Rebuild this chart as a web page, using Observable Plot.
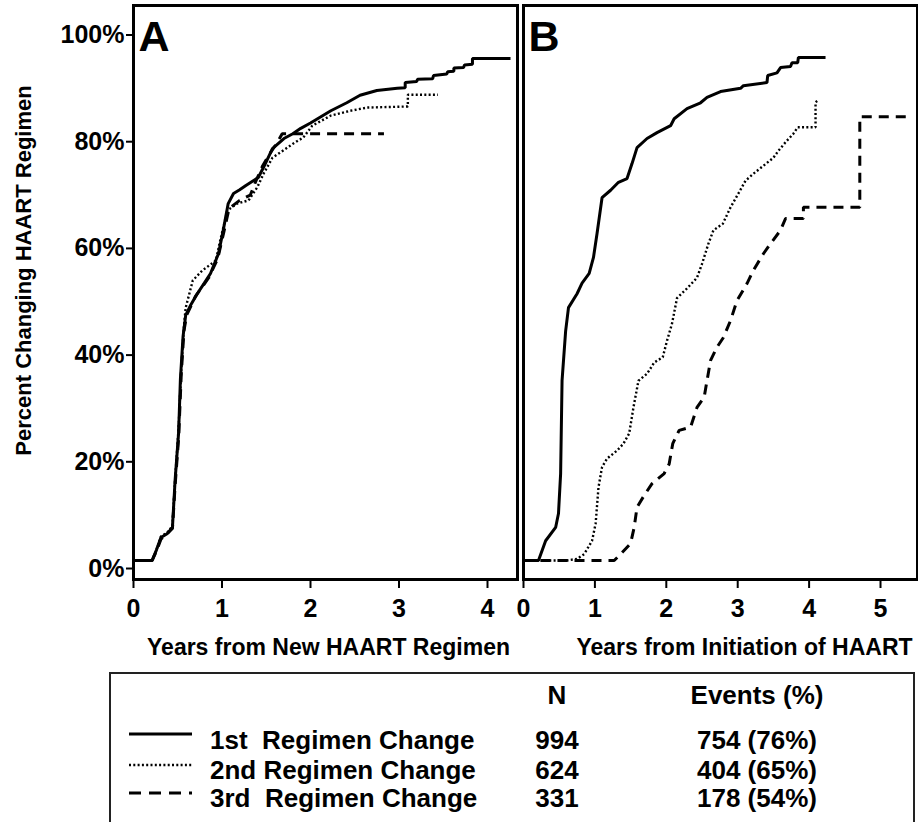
<!DOCTYPE html>
<html><head><meta charset="utf-8">
<script src="https://cdn.jsdelivr.net/npm/d3@7"></script>
<script src="https://cdn.jsdelivr.net/npm/@observablehq/plot@0.6"></script>
<style>
html,body{margin:0;padding:0;background:#fff;}
#page{position:relative;width:918px;height:822px;overflow:hidden;background:#fff;font-family:"Liberation Sans",Arial,Helvetica,sans-serif;font-weight:bold;color:#000;}
.lg{position:absolute;font-size:26px;line-height:26px;white-space:pre;}
</style></head><body><div id="page"></div>
<script>
// ---- text ----
const yTitle = "Percent Changing HAART Regimen";
const titleA = "Years from New HAART Regimen";
const titleB = "Years from Initiation of HAART";
const panelLetters = ["A", "B"];
const seriesNames = ["1st  Regimen Change", "2nd Regimen Change", "3rd  Regimen Change"];
const seriesN = ["994", "624", "331"];
const seriesEvents = ["754 (76%)", "404 (65%)", "178 (54%)"];
const legendHeaders = ["N", "Events (%)"];
const yTicks = [0, 20, 40, 60, 80, 100];
const xTicksA = [0, 1, 2, 3, 4];
const xTicksB = [0, 1, 2, 3, 4, 5];

// ---- panel A: years from new regimen ----
const a1Years = [0,0.21,0.26,0.31,0.38,0.44,0.47,0.51,0.53,0.56,0.59,0.65,0.72,0.8,0.87,0.96,1.02,1.07,1.13,1.2,1.27,1.41,1.47,1.57,1.7,1.8,1.89,2.0,2.08,2.23,2.41,2.56,2.75,2.98,3.07,3.07,3.2,3.21,3.38,3.39,3.54,3.55,3.62,3.62,3.73,3.74,3.83,3.83,4.26];
const a1Pct   = [0,0,2,4.3,5,6.2,15,24,34,42,46,48,50,52,53.8,57.5,62.4,66.9,68.8,69.5,70.3,71.8,73.7,77.2,79.1,80,81,82,82.8,84.3,85.8,87.2,88.1,88.5,88.6,89.6,89.8,90.2,90.3,90.9,91.2,91.6,91.7,92.3,92.4,92.9,93,94.1,94.1];
const a2Years = [0,0.21,0.26,0.31,0.38,0.44,0.47,0.51,0.54,0.57,0.59,0.67,0.78,0.93,0.98,1.06,1.17,1.3,1.4,1.47,1.57,1.66,1.81,1.92,2.02,2.23,2.45,2.64,3.10,3.10,3.44];
const a2Pct   = [0,0,2,4.5,5.2,6.5,15,25,36,44,47.4,52.5,54.4,56.2,60,65.6,66.9,67.5,70,72.5,75.5,76.5,78.2,79.3,81.5,83.4,84.3,84.9,85.1,87.3,87.3];
const a3Years = [0,0.21,0.26,0.31,0.38,0.44,0.47,0.51,0.54,0.57,0.6,0.7,0.85,0.95,1.02,1.08,1.2,1.32,1.38,1.46,1.55,1.63,1.68,2.83];
const a3Pct   = [0,0,1.8,4,5,6,14,23,35,43,46,49.5,53,56.5,61.5,66,67.5,68.5,71,74,76.5,78.5,80,80];

// ---- panel B: years from initiation of HAART ----
const b1Years = [0,0.21,0.31,0.45,0.49,0.52,0.54,0.59,0.63,0.75,0.82,0.92,0.98,1.03,1.10,1.22,1.33,1.45,1.52,1.59,1.73,1.87,2.06,2.11,2.29,2.48,2.57,2.76,3.04,3.08,3.41,3.42,3.55,3.6,3.74,3.76,3.84,3.85,4.23];
const b1Pct   = [0,0,3.7,6.2,8.8,16.3,33.7,43,47.4,50,52,53.8,56.8,61.3,68,69.4,70.9,71.6,74.4,77.4,79.1,80.2,81.5,82.8,84.7,85.8,86.8,87.9,88.5,89,89.6,90.9,91.4,92.4,92.6,93.3,93.3,94.3,94.3];
const b2Years = [0,0.6,0.75,0.85,0.96,1.01,1.05,1.10,1.17,1.31,1.40,1.48,1.54,1.61,1.73,1.83,1.95,2.01,2.08,2.15,2.29,2.43,2.5,2.59,2.66,2.79,2.9,3.01,3.11,3.22,3.36,3.5,3.57,3.67,3.78,3.84,4.09,4.09,4.12];
const b2Pct   = [0,0,0.3,1.2,3.7,6.9,13.7,17.5,19.1,20.6,21.9,23.8,28.7,33.7,35,37.1,38.1,41.2,44.4,49.2,51,53,55.6,59.4,61.9,63.1,66.2,68.8,71.2,72.5,74,75.5,76.8,78.4,80,81.2,81.2,85.9,86.2];
const b3Years = [0,1.27,1.36,1.5,1.55,1.59,1.69,1.8,1.97,2.04,2.09,2.18,2.34,2.43,2.53,2.57,2.62,2.71,2.8,2.9,2.99,3.13,3.22,3.36,3.46,3.6,3.67,3.92,3.92,4.71,4.71,5.39];
const b3Pct   = [0,0,1.2,3.2,6.2,10,12.2,14.4,16.3,18.1,21.9,24.4,25,28.7,30.6,33.7,37.5,40,41.8,45,48.7,51.9,54.4,57.5,59.4,61.9,64.1,64.1,66.2,66.2,83.2,83.2];

// ---- build ----
const rows = (xs, ys) => xs.map((x, i) => ({x, y: ys[i]}));
const lineStyles = [
  {strokeWidth: 3},
  {strokeWidth: 2.4, strokeDasharray: "2,2.3"},
  {strokeWidth: 3, strokeDasharray: "10,7"}
];
const FONT = "'Liberation Sans', Arial, Helvetica, sans-serif";
const page = document.getElementById("page");

function panel({series, xMax, xTicks, letter, title, titleDx, left, width, marginLeft, marginRight, withY}) {
  const marks = [
    Plot.frame({stroke: "black", strokeWidth: 3}),
    Plot.axisX(xTicks, {tickSize: 9, tickPadding: 11, fontSize: 25, strokeWidth: 2}),
    ...series.map((s, i) => Plot.line(s, {x: "x", y: "y", stroke: "black", strokeLinecap: "butt", strokeLinejoin: "miter", ...lineStyles[i]})),
    Plot.text([letter], {text: d => d, frameAnchor: "top-left", dx: 5, dy: 15, textAnchor: "start", lineAnchor: "top", fontSize: 43, fontWeight: "bold"}),
    Plot.text([title], {text: d => d, frameAnchor: "bottom", dx: titleDx, dy: 75, fontSize: 23, fontWeight: "bold"})
  ];
  if (withY) {
    marks.push(
      Plot.axisY(yTicks, {tickSize: 7, tickPadding: 2, tickFormat: d => d + "%", fontSize: 25, dy: 8, strokeWidth: 2}),
      Plot.text([yTitle], {text: d => d, frameAnchor: "left", textAnchor: "middle", lineAnchor: "middle", dx: -110, dy: -22, rotate: -90, fontSize: 22, fontWeight: "bold"})
    );
  }
  const svg = Plot.plot({
    width, height: 680,
    marginLeft, marginRight, marginTop: 5, marginBottom: 101,
    x: {domain: [0, xMax], label: null},
    y: {domain: [-3.56, 104.03], label: null, axis: withY ? undefined : null},
    style: {fontFamily: FONT, fontWeight: "bold", color: "black", background: "transparent", overflow: "visible"},
    marks
  });
  svg.style.position = "absolute";
  svg.style.left = left + "px";
  svg.style.top = "0px";
  page.appendChild(svg);
}

panel({
  series: [rows(a1Years, a1Pct), rows(a2Years, a2Pct), rows(a3Years, a3Pct)],
  xMax: 4.339, xTicks: xTicksA, letter: panelLetters[0], title: titleA, titleDx: 3,
  left: 0, width: 520, marginLeft: 133, marginRight: 3, withY: true
});
panel({
  series: [rows(b1Years, b1Pct), rows(b2Years, b2Pct), rows(b3Years, b3Pct)],
  xMax: 5.518, xTicks: xTicksB, letter: panelLetters[1], title: titleB, titleDx: 24,
  left: 520, width: 398, marginLeft: 3, marginRight: 1, withY: false
});

// ---- legend box ----
const box = document.createElement("div");
Object.assign(box.style, {position: "absolute", left: "109px", top: "672px", width: "806px", height: "220px", border: "2px solid #222", boxSizing: "border-box"});
page.appendChild(box);

const lay = {textLeft: 210, nCenter: 557, evCenter: 757, headerY: 695, rowY: [740, 770, 798], sampleY: [734, 765, 793], sampleX: [129, 192]};
function addText(str, x, y, align) {
  const s = document.createElement("span");
  s.className = "lg";
  s.textContent = str;
  s.style.top = (y - 13) + "px";
  s.style.left = x + "px";
  if (align === "center") s.style.transform = "translateX(-50%)";
  page.appendChild(s);
}
addText(legendHeaders[0], lay.nCenter, lay.headerY, "center");
addText(legendHeaders[1], lay.evCenter, lay.headerY, "center");
seriesNames.forEach((name, i) => {
  addText(name, lay.textLeft, lay.rowY[i], "left");
  addText(seriesN[i], lay.nCenter, lay.rowY[i], "center");
  addText(seriesEvents[i], lay.evCenter, lay.rowY[i], "center");
});
const lsvg = d3.select(page).append("svg")
  .attr("width", 918).attr("height", 822)
  .style("position", "absolute").style("left", 0).style("top", 0).style("pointer-events", "none");
const legendDash = [null, "2,2.3", "12,8"];
const legendWidth = [2.8, 2.4, 2.8];
seriesNames.forEach((name, i) => {
  lsvg.append("line")
    .attr("x1", lay.sampleX[0]).attr("x2", lay.sampleX[1])
    .attr("y1", lay.sampleY[i]).attr("y2", lay.sampleY[i])
    .attr("stroke", "black").attr("stroke-width", legendWidth[i])
    .attr("stroke-dasharray", legendDash[i]);
});
</script></body></html>
